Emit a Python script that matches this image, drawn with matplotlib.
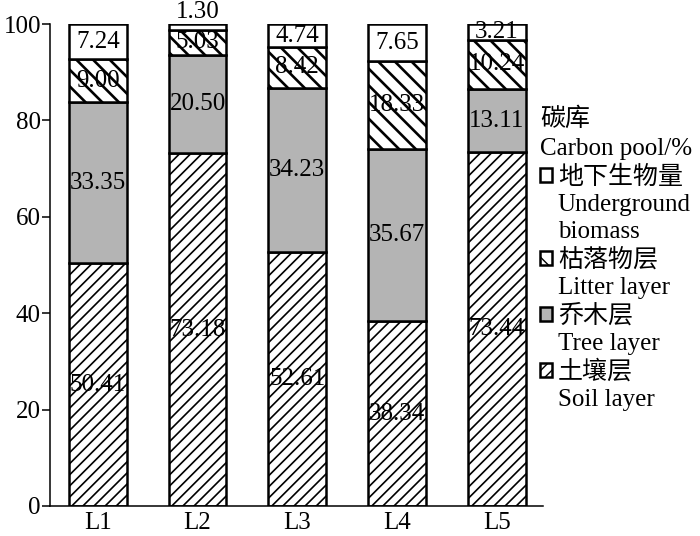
import numpy as np
import matplotlib.pyplot as plt
from matplotlib.patches import Patch

plt.rcParams['font.family'] = ['Liberation Serif', 'Noto Sans CJK SC']

sites = ['L1', 'L2', 'L3', 'L4', 'L5']
soil = [50.41, 73.18, 52.61, 38.34, 73.44]
tree = [33.35, 20.50, 34.23, 35.67, 13.11]
litter = [9.00, 5.03, 8.42, 18.33, 10.24]
under = [7.24, 1.30, 4.74, 7.65, 3.21]

layers = [soil, tree, litter, under]
# legend text: Chinese line first, English lines after
names_cn = ['土壤层', '乔木层', '枯落物层', '地下生物量']
names_en = [['Soil layer'], ['Tree layer'], ['Litter layer'],
            ['Underground', 'biomass']]
faces = ['white', '#b4b4b4', 'white', 'white']
hatches = ['///', None, '\\\\', None]
hatch_lw = [1.2, 1.0, 1.9, 1.0]

fig = plt.figure(figsize=(7, 5.36), dpi=100)
ax = fig.add_axes([0.0714, 0.056, 0.705, 0.899])

x = np.arange(len(sites))
bottom = np.zeros(len(sites))
patches = []
for vals, fc, h, hlw in zip(layers, faces, hatches, hatch_lw):
    vals = np.array(vals)
    plt.rcParams['hatch.linewidth'] = hlw
    ax.bar(x, vals, 0.58, bottom=bottom, color=fc, edgecolor='black',
           hatch=h, linewidth=1.8)
    for i in range(len(sites)):
        yc = bottom[i] + vals[i] / 2
        if vals[i] < 2:
            yc = bottom[i] + vals[i] + 2.6
        ax.text(x[i], yc, '%.2f' % vals[i], ha='center', va='center',
                fontsize=18)
    bottom += vals
    patches.append(Patch(facecolor=fc, edgecolor='black', hatch=h,
                         linewidth=1.8))

ax.set_xlim(-0.48, 4.47)
ax.set_ylim(0, 100)
ax.set_xticks(x)
ax.set_xticklabels(sites, fontsize=18)
ax.set_yticks([0, 20, 40, 60, 80, 100])
ax.tick_params(axis='y', labelsize=18, length=6, width=1.1, direction='out',
               pad=0.5)
ax.tick_params(axis='x', length=0, pad=4)
ax.spines['top'].set_visible(False)
ax.spines['right'].set_visible(False)
ax.spines['left'].set_linewidth(1.1)
ax.spines['bottom'].set_linewidth(1.1)

# legend, top entry = underground biomass
leg_handles = []
leg_labels = []
for k in [3, 2, 1, 0]:
    leg_handles.append(patches[k])
    leg_labels.append(names_cn[k])
    for line in names_en[k]:
        leg_handles.append(Patch(facecolor='none', edgecolor='none'))
        leg_labels.append(line)

leg = fig.legend(leg_handles, leg_labels,
                 loc='upper left', bbox_to_anchor=(0.772, 0.80),
                 frameon=False, fontsize=18, title='碳库\nCarbon pool/%',
                 title_fontsize=18, handlelength=0.48, handleheight=0.48,
                 handletextpad=0.22, labelspacing=0.21, borderpad=0,
                 borderaxespad=0, alignment='left')
leg.get_title().set_linespacing(1.45)

fig.savefig('out.png', dpi=100)
